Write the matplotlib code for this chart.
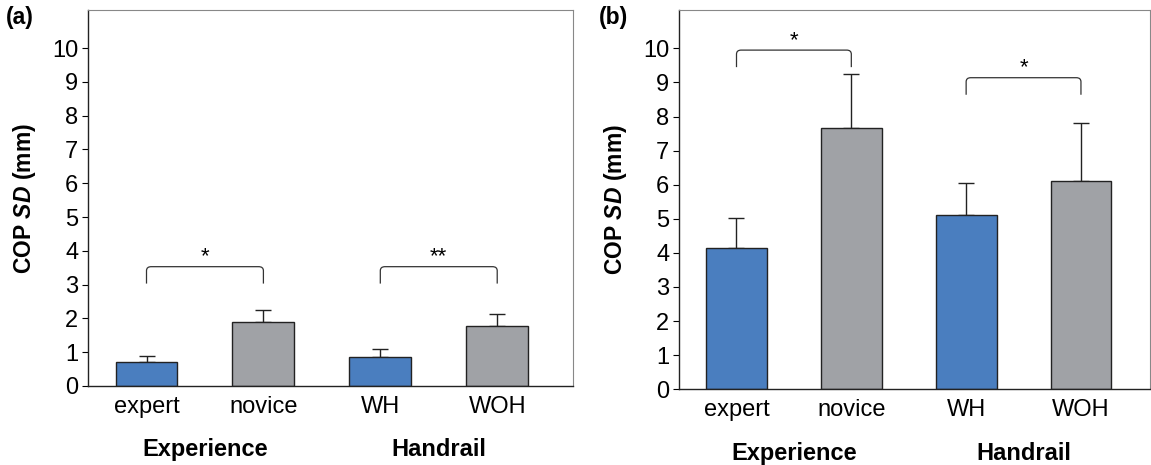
import numpy as np
import matplotlib.pyplot as plt
from matplotlib.path import Path
from matplotlib.patches import PathPatch

plt.rcParams["font.family"] = ["Liberation Sans", "DejaVu Sans"]
plt.rcParams["mathtext.fontset"] = "custom"
plt.rcParams["mathtext.rm"] = "Liberation Sans"
plt.rcParams["mathtext.bf"] = "Liberation Sans:bold"
plt.rcParams["mathtext.bfit"] = "Liberation Sans:italic:bold"

# Data
conditions = ["expert", "novice", "WH", "WOH"]
groups = ["Experience", "Handrail"]
means_a = [0.72, 1.90, 0.85, 1.76]
sd_a = [0.16, 0.35, 0.25, 0.37]
means_b = [4.13, 7.66, 5.11, 6.11]
sd_b = [0.89, 1.60, 0.93, 1.71]
# significance brackets: (left bar, right bar, bracket height, label)
sig_a = [(0, 1, 3.53, "*"), (2, 3, 3.53, "**")]
sig_b = [(0, 1, 9.95, "*"), (2, 3, 9.14, "*")]

colors = ["#4a7ebf", "#a0a2a6", "#4a7ebf", "#a0a2a6"]


def draw_bracket(ax, x0, x1, y, label, drop=0.5, r=0.04):
    # bracket with slightly rounded corners
    verts = [(x0, y - drop), (x0, y - 0.12), (x0, y), (x0 + r, y),
             (x1 - r, y), (x1, y), (x1, y - 0.12), (x1, y - drop)]
    codes = [Path.MOVETO, Path.LINETO, Path.CURVE3, Path.CURVE3,
             Path.LINETO, Path.CURVE3, Path.CURVE3, Path.LINETO]
    ax.add_patch(PathPatch(Path(verts, codes), fill=False, lw=0.9,
                           edgecolor="#333333"))
    ax.text((x0 + x1) / 2, y - 0.02, label, ha="center", va="bottom",
            fontsize=16)


def panel(ax, means, sds, sigs, tag, xmax):
    x = np.arange(len(conditions))
    ax.bar(x, means, width=0.53, color=colors, edgecolor="#222222",
           linewidth=1.0, zorder=2)
    ax.errorbar(x, means, yerr=[np.zeros(len(sds)), sds], fmt="none",
                ecolor="#222222", elinewidth=1.0, capsize=5.5, capthick=1.0,
                zorder=1)
    for i0, i1, y, lab in sigs:
        draw_bracket(ax, x[i0], x[i1], y, lab)

    ax.set_xlim(-0.5, xmax)
    ax.set_ylim(0, 11.12)
    ax.set_yticks(range(0, 11))
    ax.tick_params(axis="y", labelsize=17, length=4, width=0.8, pad=3)
    ax.set_xticks(x)
    ax.set_xticklabels(conditions, fontsize=17)
    ax.tick_params(axis="x", length=0, pad=7)
    for s in ["top", "right"]:
        ax.spines[s].set_color("#888888")
        ax.spines[s].set_linewidth(0.8)
    for s in ["left", "bottom"]:
        ax.spines[s].set_color("#222222")
        ax.spines[s].set_linewidth(1.0)

    ax.set_ylabel(r"COP $\bfit{SD}$ (mm)", fontsize=16.5, fontweight="bold",
                  labelpad=10)
    for g, name in enumerate(groups):
        ax.text(2 * g + 0.5, -0.17, name, transform=ax.get_xaxis_transform(),
                ha="center", va="center", fontsize=17, fontweight="bold")
    ax.text(-0.17, 1.01, tag, transform=ax.transAxes, ha="left", va="top",
            fontsize=16.5, fontweight="bold")


fig = plt.figure(figsize=(11.51, 4.65), dpi=100)
ax_a = fig.add_axes([0.0765, 0.170, 0.4215, 0.808])
ax_b = fig.add_axes([0.590, 0.163, 0.409, 0.815])

panel(ax_a, means_a, sd_a, sig_a, "(a)", 3.65)
panel(ax_b, means_b, sd_b, sig_b, "(b)", 3.6)

fig.savefig("out.png", dpi=100)
